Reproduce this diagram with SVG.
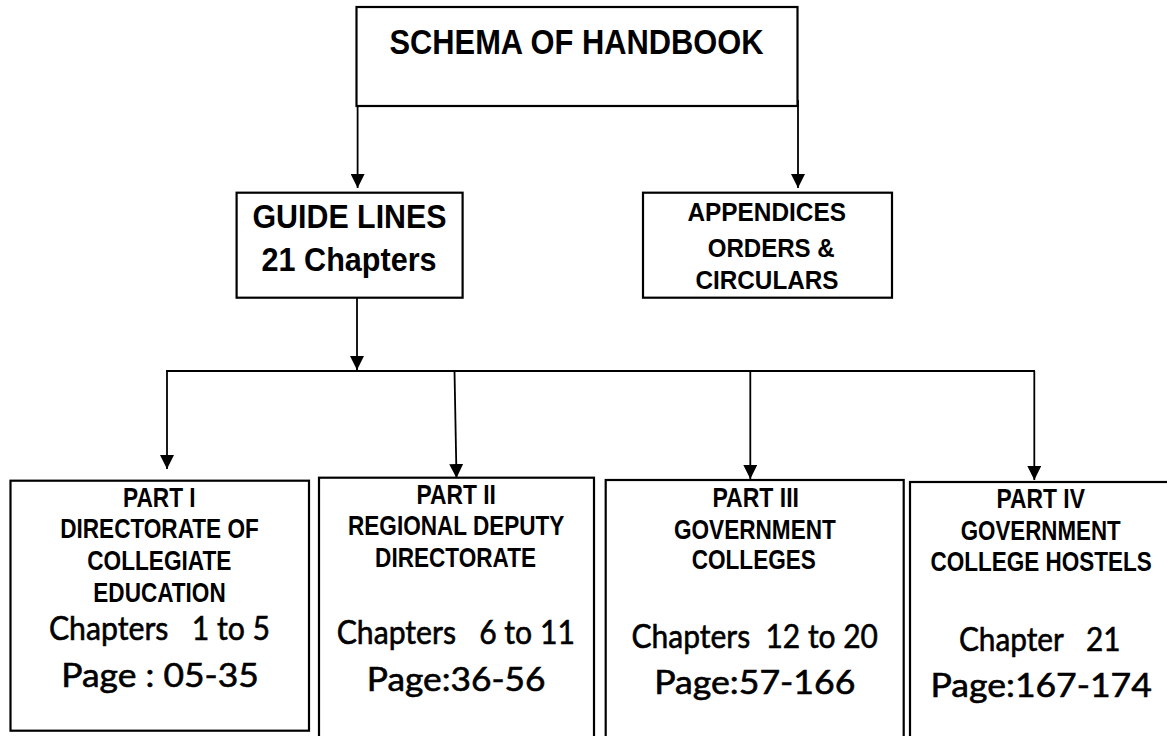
<svg xmlns="http://www.w3.org/2000/svg" width="1167" height="736" viewBox="0 0 1167 736">
<style>
  .box { fill: #ffffff; stroke: #000000; stroke-width: 2.2; }
  .n { font-family: "Liberation Sans", Arial, sans-serif; font-weight: bold; fill: #000000; text-anchor: middle; }
  .c { font-family: Lato, "Open Sans", sans-serif; font-weight: normal; fill: #000000; stroke: #000000; stroke-width: 0.6; text-anchor: middle; }
  .conn { stroke: #000000; stroke-width: 1.8; fill: none; }
</style>
<defs>
  <marker id="arrow" viewBox="0 0 14 14" refX="14" refY="7" markerWidth="14" markerHeight="14" markerUnits="userSpaceOnUse" orient="auto">
    <path d="M0,0 L14,7 L0,14 z" fill="#000000"/>
  </marker>
</defs>
<rect width="1167" height="736" fill="#ffffff"/>

<g id="connectors">
  <line class="conn" x1="357.6" y1="106" x2="357.6" y2="188" marker-end="url(#arrow)"/>
  <line class="conn" x1="798" y1="100" x2="798" y2="188" marker-end="url(#arrow)"/>
  <line class="conn" x1="357" y1="297.5" x2="357" y2="370" marker-end="url(#arrow)"/>
  <line class="conn" x1="166" y1="371" x2="1035" y2="371"/>
  <line class="conn" x1="167" y1="371" x2="167" y2="469" marker-end="url(#arrow)"/>
  <line class="conn" x1="454.5" y1="371" x2="456.5" y2="478" marker-end="url(#arrow)"/>
  <line class="conn" x1="750.3" y1="371" x2="750.3" y2="479" marker-end="url(#arrow)"/>
  <line class="conn" x1="1034.3" y1="371" x2="1034.3" y2="480" marker-end="url(#arrow)"/>
</g>

<g id="schema">
  <rect class="box" x="356.5" y="7" width="441" height="99"/>
  <text class="n" x="576.5" y="54.3" font-size="35" textLength="374" lengthAdjust="spacingAndGlyphs">SCHEMA OF HANDBOOK</text>
</g>

<g id="guidelines">
  <rect class="box" x="236.6" y="192.7" width="226" height="105"/>
  <text class="n" x="349.5" y="228.3" font-size="33.5" textLength="194" lengthAdjust="spacingAndGlyphs">GUIDE LINES</text>
  <text class="n" x="349.1" y="270.7" font-size="33.5" textLength="175" lengthAdjust="spacingAndGlyphs">21 Chapters</text>
</g>

<g id="appendices">
  <rect class="box" x="643" y="192.7" width="249" height="105"/>
  <text class="n" x="766.7" y="221" font-size="26.5" textLength="158.5" lengthAdjust="spacingAndGlyphs">APPENDICES</text>
  <text class="n" x="771.2" y="256.7" font-size="26.5" textLength="127" lengthAdjust="spacingAndGlyphs">ORDERS &amp;</text>
  <text class="n" x="767" y="289.3" font-size="26.5" textLength="143" lengthAdjust="spacingAndGlyphs">CIRCULARS</text>
</g>

<g id="part1">
  <rect class="box" x="10.5" y="480.7" width="298.5" height="250"/>
  <text class="n" x="159.3" y="506.7" font-size="28" textLength="72.6" lengthAdjust="spacingAndGlyphs">PART I</text>
  <text class="n" x="159.5" y="538.3" font-size="28" textLength="198.6" lengthAdjust="spacingAndGlyphs">DIRECTORATE OF</text>
  <text class="n" x="159.3" y="570" font-size="28" textLength="144.1" lengthAdjust="spacingAndGlyphs">COLLEGIATE</text>
  <text class="n" x="159.5" y="601.7" font-size="28" textLength="132.4" lengthAdjust="spacingAndGlyphs">EDUCATION</text>
  <text class="c" x="159.5" y="640" font-size="33.5" textLength="221.2" lengthAdjust="spacingAndGlyphs" xml:space="preserve">Chapters   1 to 5</text>
  <text class="c" x="160" y="686.7" font-size="33.5" textLength="197.5" lengthAdjust="spacingAndGlyphs" xml:space="preserve">Page : 05-35</text>
</g>

<g id="part2">
  <rect class="box" x="319" y="477.7" width="275" height="270"/>
  <text class="n" x="456.2" y="504.3" font-size="28" textLength="79.4" lengthAdjust="spacingAndGlyphs">PART II</text>
  <text class="n" x="456.2" y="535" font-size="28" textLength="216.3" lengthAdjust="spacingAndGlyphs">REGIONAL DEPUTY</text>
  <text class="n" x="455.6" y="567.3" font-size="28" textLength="161" lengthAdjust="spacingAndGlyphs">DIRECTORATE</text>
  <text class="c" x="455.8" y="644" font-size="33.5" textLength="238.2" lengthAdjust="spacingAndGlyphs" xml:space="preserve">Chapters   6 to 11</text>
  <text class="c" x="456.2" y="690.7" font-size="33.5" textLength="178.7" lengthAdjust="spacingAndGlyphs">Page:36-56</text>
</g>

<g id="part3">
  <rect class="box" x="605.7" y="480" width="298" height="270"/>
  <text class="n" x="755.7" y="506.7" font-size="28" textLength="86.6" lengthAdjust="spacingAndGlyphs">PART III</text>
  <text class="n" x="754.9" y="539" font-size="28" textLength="161.8" lengthAdjust="spacingAndGlyphs">GOVERNMENT</text>
  <text class="n" x="753.8" y="569.3" font-size="28" textLength="124.2" lengthAdjust="spacingAndGlyphs">COLLEGES</text>
  <text class="c" x="754.8" y="648.3" font-size="33.5" textLength="246.4" lengthAdjust="spacingAndGlyphs" xml:space="preserve">Chapters  12 to 20</text>
  <text class="c" x="754.8" y="694" font-size="33.5" textLength="201.3" lengthAdjust="spacingAndGlyphs">Page:57-166</text>
</g>

<g id="part4">
  <rect class="box" x="910" y="482" width="270" height="270"/>
  <text class="n" x="1040.7" y="508.3" font-size="28" textLength="88.4" lengthAdjust="spacingAndGlyphs">PART IV</text>
  <text class="n" x="1040.7" y="540" font-size="28" textLength="159.9" lengthAdjust="spacingAndGlyphs">GOVERNMENT</text>
  <text class="n" x="1041.2" y="571" font-size="28" textLength="221.3" lengthAdjust="spacingAndGlyphs">COLLEGE HOSTELS</text>
  <text class="c" x="1039.8" y="650.7" font-size="33.5" textLength="161.7" lengthAdjust="spacingAndGlyphs" xml:space="preserve">Chapter   21</text>
  <text class="c" x="1041.2" y="696.7" font-size="33.5" textLength="221.3" lengthAdjust="spacingAndGlyphs">Page:167-174</text>
</g>
</svg>
